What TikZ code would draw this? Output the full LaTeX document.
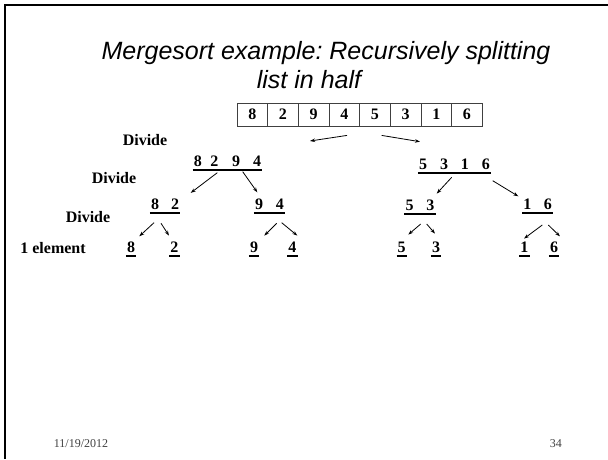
\documentclass[tikz,border=0pt]{standalone}
\usepackage{fontspec}
\setmainfont{Liberation Serif}
\newfontfamily\arialfont{Liberation Sans}
\usetikzlibrary{arrows.meta}
\newcommand\sepw[1]{\hspace{#1pt}}
\begin{document}
\begin{tikzpicture}[x=1pt,y=-1pt,
  grp/.style={font=\fontsize{16}{16}\selectfont\bfseries, inner ysep=0pt, inner xsep=1pt, text height=11pt, text depth=3pt, anchor=south},
  uline/.style={line width=2pt},
  cell/.style={draw=black!75, line width=0.8pt, minimum width=30.66pt, minimum height=23pt, inner sep=0pt, font=\fontsize{16}{16}\selectfont\bfseries},
  lbl/.style={font=\fontsize{16}{16}\selectfont\bfseries, anchor=base, inner sep=0pt},
  arr/.style={line width=0.8pt, -{Stealth[length=5pt,width=3.5pt]}},
  ttl/.style={font=\arialfont\itshape\fontsize{25}{25}\selectfont\frenchspacing, anchor=base, inner sep=0pt},
  frame/.style={line width=2.5pt}
]
\useasboundingbox (0,0) rectangle (608,459);
% slide frame
\coordinate (ftl) at (5,5);
\coordinate (ftr) at (608,5);
\coordinate (fbl) at (5,459);
\draw[frame] (ftr) -- (ftl) -- (fbl);

% title
\node[ttl] (t1) at (326,59) {Mergesort example: Recursively splitting};
\node[ttl] (t2) at (309,88) {list in half};

% array
\foreach \v [count=\i] in {8,2,9,4,5,3,1,6} {
  \node[cell] (c\i) at ({237+30.66*(\i-0.5)},114.5) {\v};
}
\coordinate (lt) at (310,141);
\coordinate (rt) at (420,141.7);
\draw[arr] ([shift={(2.7,9)}]c4.south) -- (lt);
\draw[arr] ([shift={(6.7,9)}]c5.south) -- (rt);

% labels
\node[lbl] (d1) at (145,145.3) {Divide};
\node[lbl] (d2) at (114,183.3) {Divide};
\node[lbl] (d3) at (88,222) {Divide};
\node[lbl] (d4) at (53,253) {1 element};

% tree nodes
\node[grp] (n8294) at (227.5,169.5) {8\sepw{8.6}2\sepw{13.7}9\sepw{13}4};
\node[grp] (n5316) at (454.5,172.5) {5\sepw{13.1}3\sepw{12.7}1\sepw{13}6};
\node[grp] (n82) at (165,212.7) {8\sepw{12}2};
\node[grp] (n94) at (269.5,212.7) {9\sepw{12.7}4};
\node[grp] (n53) at (420,214) {5\sepw{13}3};
\node[grp] (n16) at (537.7,212.7) {1\sepw{12.6}6};
\node[grp] (l8) at (131,256) {8};
\node[grp] (l2) at (174.3,256) {2};
\node[grp] (l9) at (254,256) {9};
\node[grp] (l4) at (292.3,256) {4};
\node[grp] (l5) at (401.7,256) {5};
\node[grp] (l3) at (436,256) {3};
\node[grp] (l1) at (524.3,256) {1};
\node[grp] (l6) at (554,256) {6};
\foreach \n in {n8294,n5316,n82,n94,n53,n16,l8,l2,l9,l4,l5,l3,l1,l6} {
  \draw[uline] (\n.south west) -- (\n.south east);
}

% connectors
\draw[arr] ([shift={(-10.2,3.2)}]n8294.south) -- ([shift={(25.7,-5.4)}]n82.north);
\draw[arr] ([shift={(15.2,2.2)}]n8294.south) -- ([shift={(-12.2,-6)}]n94.north);
\draw[arr] ([shift={(-11,10)}]n82.south) -- ([shift={(8.3,-5.3)}]l8.north);
\draw[arr] ([shift={(-4,10.6)}]n82.south) -- ([shift={(-5.3,-6)}]l2.north);
\draw[arr] ([shift={(7.2,10.6)}]n94.south) -- ([shift={(10.3,-6)}]l9.north);
\draw[arr] ([shift={(12.2,10)}]n94.south) -- ([shift={(5,-6)}]l4.north);
\draw[arr] ([shift={(-2.8,4.8)}]n5316.south) -- ([shift={(16.7,-6)}]n53.north);
\draw[arr] ([shift={(38.2,8.2)}]n5316.south) -- ([shift={(-19.4,-2)}]n16.north);
\draw[arr] ([shift={(0.7,10)}]n53.south) -- ([shift={(6.6,-7)}]l5.north);
\draw[arr] ([shift={(6.7,10)}]n53.south) -- ([shift={(-1,-8)}]l3.north);
\draw[arr] ([shift={(4.6,12.3)}]n16.south) -- ([shift={(-0.3,-3)}]l1.north);
\draw[arr] ([shift={(10.6,12.3)}]n16.south) -- ([shift={(6,-5.3)}]l6.north);

% footer
\node[font=\fontsize{12}{12}\selectfont, text=black!75, anchor=base, inner sep=0pt] (date) at (81,447) {11/19/2012};
\node[font=\fontsize{12}{12}\selectfont, text=black!75, anchor=base east, inner sep=0pt] (pg) at (562,447) {34};
\end{tikzpicture}
\end{document}
